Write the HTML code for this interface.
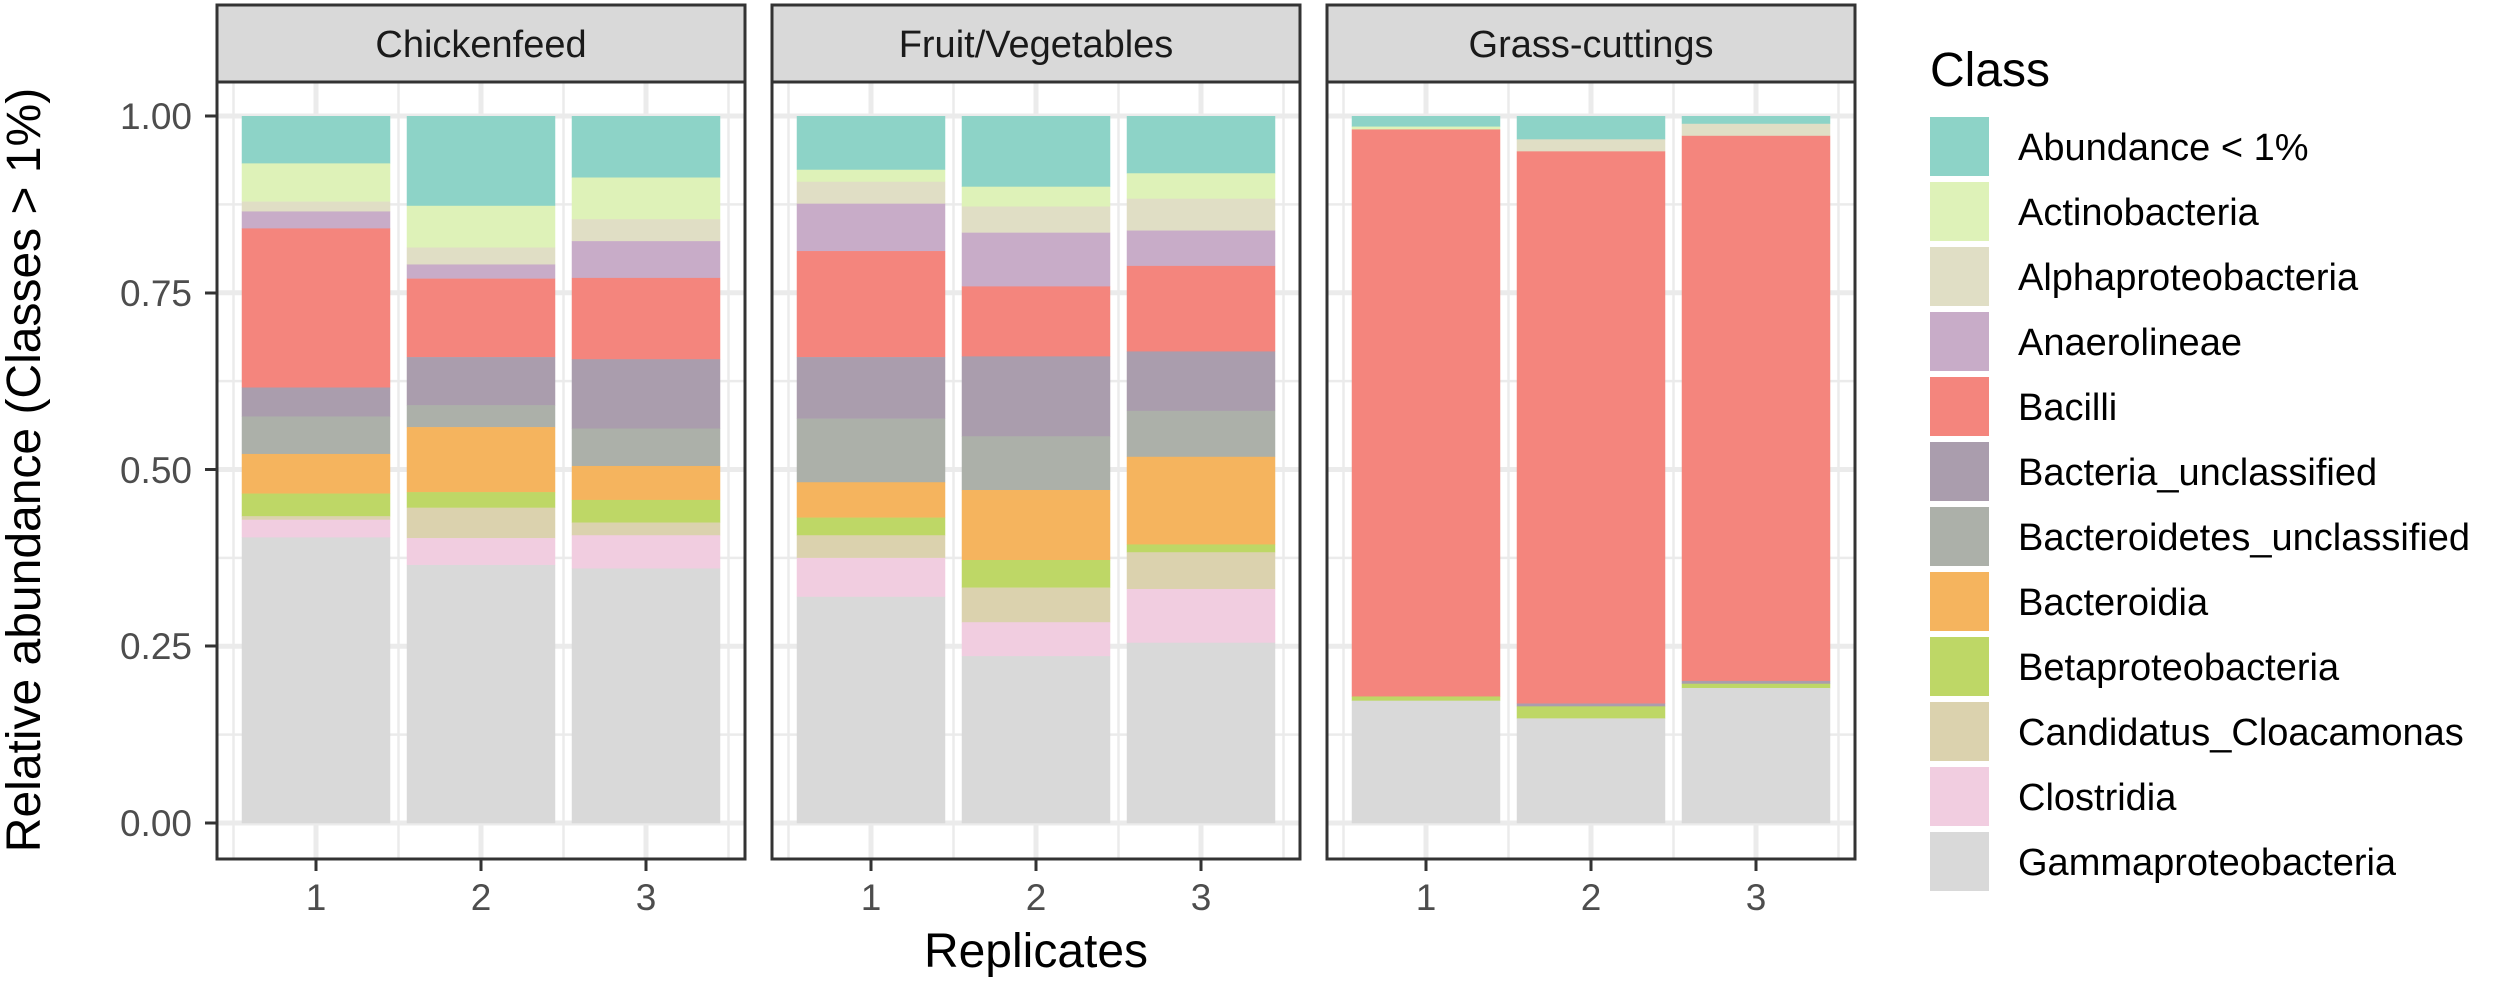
<!DOCTYPE html>
<html><head><meta charset="utf-8"><style>
html,body{margin:0;padding:0;background:#fff}
svg{display:block}
text{font-family:"Liberation Sans",Arial,sans-serif}
</style></head><body>
<svg id="s" width="2500" height="988" viewBox="0 0 2500 988" xmlns="http://www.w3.org/2000/svg">
<g id="panels"></g>
<text x="481" y="57" font-size="38" fill="#1A1A1A" text-anchor="middle">Chickenfeed</text>
<text x="1036" y="57" font-size="38" fill="#1A1A1A" text-anchor="middle">Fruit/Vegetables</text>
<text x="1591" y="57" font-size="38" fill="#1A1A1A" text-anchor="middle">Grass-cuttings</text>
<g font-size="37" fill="#4D4D4D" text-anchor="end">
<text x="192" y="129">1.00</text>
<text x="192" y="306">0.75</text>
<text x="192" y="483">0.50</text>
<text x="192" y="659">0.25</text>
<text x="192" y="836">0.00</text>
</g>
<g stroke="#333" stroke-width="3">
<line x1="205" x2="217" y1="116" y2="116"/><line x1="205" x2="217" y1="293" y2="293"/>
<line x1="205" x2="217" y1="469.5" y2="469.5"/><line x1="205" x2="217" y1="646" y2="646"/>
<line x1="205" x2="217" y1="823" y2="823"/>
</g>
<g font-size="37" fill="#4D4D4D" text-anchor="middle">
<text x="316" y="910">1</text><text x="481" y="910">2</text><text x="646" y="910">3</text>
<text x="871" y="910">1</text><text x="1036" y="910">2</text><text x="1201" y="910">3</text>
<text x="1426" y="910">1</text><text x="1591" y="910">2</text><text x="1756" y="910">3</text>
</g>
<text x="1036" y="967" font-size="48" fill="#000" text-anchor="middle">Replicates</text>
<text transform="translate(40,470) rotate(-90)" font-size="48" fill="#000" text-anchor="middle">Relative abundance (Classes &gt; 1%)</text>
<text x="1930" y="86" font-size="48" fill="#000">Class</text>
<g font-size="38" fill="#000">
<text x="2018" y="160">Abundance &lt; 1%</text>
<text x="2018" y="225">Actinobacteria</text>
<text x="2018" y="290">Alphaproteobacteria</text>
<text x="2018" y="355">Anaerolineae</text>
<text x="2018" y="420">Bacilli</text>
<text x="2018" y="485">Bacteria_unclassified</text>
<text x="2018" y="550">Bacteroidetes_unclassified</text>
<text x="2018" y="615">Bacteroidia</text>
<text x="2018" y="680">Betaproteobacteria</text>
<text x="2018" y="745">Candidatus_Cloacamonas</text>
<text x="2018" y="810">Clostridia</text>
<text x="2018" y="875">Gammaproteobacteria</text>
</g>
<g id="leg"></g>
</svg>
<script>
(function(){
var C=["#8DD3C7","#DEF2B8","#E0DEC5","#C8ACC8","#F4857D","#AA9DAD","#ACB0A9","#F5B45E","#BED766","#DBD2AE","#F1CDE0","#D9D9D9"];
var D=[
[[.933,.879,.865,.841,.616,.575,.522,.466,.434,.429,.404],
 [.873,.814,.790,.770,.659,.591,.560,.468,.446,.403,.365],
 [.913,.854,.823,.771,.656,.558,.505,.457,.425,.407,.360]],
[[.924,.907,.876,.809,.659,.572,.482,.432,.407,.375,.320],
 [.900,.872,.835,.759,.660,.547,.471,.372,.333,.284,.236],
 [.919,.883,.838,.788,.667,.583,.518,.394,.383,.331,.255]],
[[.985,.981,.981,.981,.179,.179,.179,.179,.173,.173,.173],
 [.967,.967,.950,.950,.169,.165,.165,.165,.148,.148,.148],
 [.989,.989,.972,.972,.201,.197,.197,.197,.191,.191,.191]]];
var P=document.getElementById("panels"),h="";
function Y(v){return 823-707*v;}
var lefts=[217,772,1327];
for(var p=0;p<3;p++){
 var L=lefts[p];
 h+='<rect x="'+L+'" y="82" width="528" height="777" fill="#fff"/>';
 [.125,.375,.625,.875].forEach(function(v){h+='<line x1="'+L+'" x2="'+(L+528)+'" y1="'+Y(v)+'" y2="'+Y(v)+'" stroke="#EBEBEB" stroke-width="2.5"/>';});
 [0.1,1.1,2.1,3.1].forEach(function(u){var x=L+165*u;h+='<line x1="'+x+'" x2="'+x+'" y1="82" y2="859" stroke="#EBEBEB" stroke-width="2.5"/>';});
 [0,.25,.5,.75,1].forEach(function(v){h+='<line x1="'+L+'" x2="'+(L+528)+'" y1="'+Y(v)+'" y2="'+Y(v)+'" stroke="#EBEBEB" stroke-width="5"/>';});
 [0.6,1.6,2.6].forEach(function(u){var x=L+165*u;h+='<line x1="'+x+'" x2="'+x+'" y1="82" y2="859" stroke="#EBEBEB" stroke-width="5"/>';});
 for(var b=0;b<3;b++){
  var cx=L+165*(b+0.6),x0=cx-74.25,tp=1,arr=D[p][b].concat([0]);
  for(var i=0;i<12;i++){var bt=arr[i];if(tp-bt>0.0001){h+='<rect x="'+x0+'" y="'+Y(tp)+'" width="148.5" height="'+(707*(tp-bt)+0.3)+'" fill="'+C[i]+'"/>';}tp=bt;}
 }
 h+='<rect x="'+L+'" y="82" width="528" height="777" fill="none" stroke="#333" stroke-width="3"/>';
 h+='<rect x="'+L+'" y="5" width="528" height="77" fill="#D9D9D9" stroke="#333" stroke-width="3"/>';
 [0.6,1.6,2.6].forEach(function(u){var x=L+165*u;h+='<line x1="'+x+'" x2="'+x+'" y1="859" y2="871" stroke="#333" stroke-width="3"/>';});
}
P.innerHTML=h;
var g="";for(var i=0;i<12;i++){g+='<rect x="1930" y="'+(117+65*i)+'" width="59" height="59" fill="'+C[i]+'"/>';}
document.getElementById("leg").innerHTML=g;
})();
</script>
</body></html>
